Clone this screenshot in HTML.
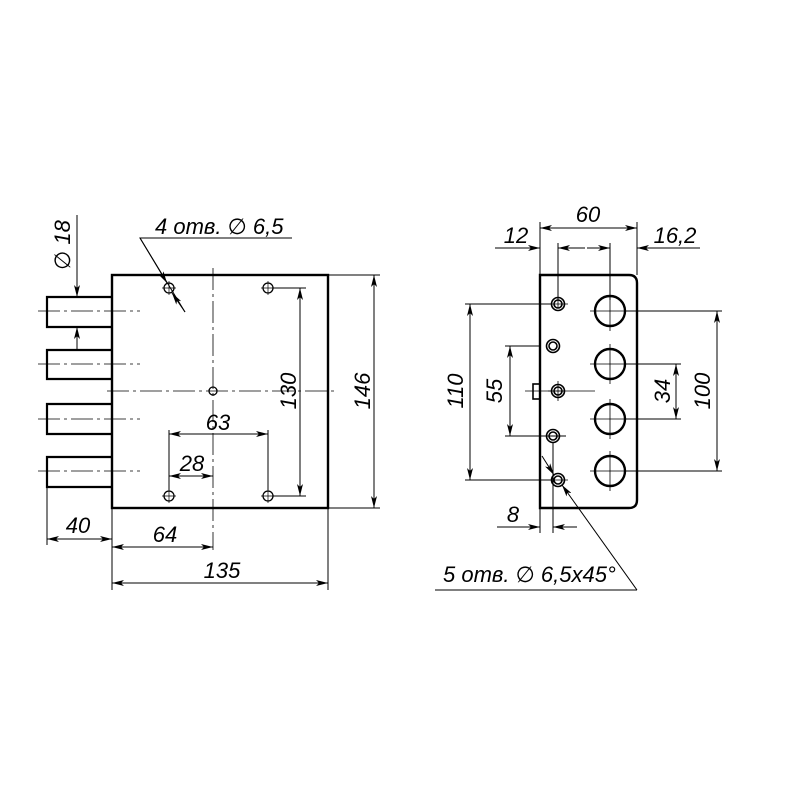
<!DOCTYPE html>
<html><head><meta charset="utf-8"><style>
html,body{margin:0;padding:0;background:#fff;}
svg{display:block;}
text{font-family:"Liberation Sans","DejaVu Sans",sans-serif;font-style:italic;font-size:22px;fill:#000;}
</style></head><body>
<svg width="800" height="800" viewBox="0 0 800 800" xmlns="http://www.w3.org/2000/svg">
<defs>
<marker id="a" viewBox="0 0 12 6" refX="12" refY="3" markerWidth="12" markerHeight="6" markerUnits="userSpaceOnUse" orient="auto-start-reverse"><path d="M0,0 L12,3 L0,6 L3,3 z" fill="#000"/></marker>
</defs>
<g stroke="#000" fill="none">
<!-- LEFT VIEW -->
<rect x="112" y="275" width="216" height="233" stroke-width="2.4"/>
<g stroke-width="2.2">
<polyline points="112,297 47,297 47,327 112,327"/>
<polyline points="112,350 47,350 47,379 112,379"/>
<polyline points="112,404 47,404 47,434 112,434"/>
<polyline points="112,457 47,457 47,487 112,487"/>
</g>
<g stroke-width="0.8" stroke-dasharray="22,4,3,4">
<line x1="38" y1="311" x2="140" y2="311"/>
<line x1="38" y1="364" x2="140" y2="364"/>
<line x1="38" y1="419" x2="140" y2="419"/>
<line x1="38" y1="471" x2="140" y2="471"/>
<line x1="107" y1="391" x2="335" y2="391"/>
<line x1="213" y1="268" x2="213" y2="550"/>
</g>
<g stroke-width="1.3">
<circle cx="169" cy="288" r="5"/><circle cx="268" cy="288" r="5"/>
<circle cx="169" cy="496" r="5"/><circle cx="268" cy="496" r="5"/>
<circle cx="213" cy="391" r="4"/>
</g>
<g stroke-width="0.7">
<path d="M162,288h14M169,281v14M261,288h14M268,281v14M162,496h14M169,489v14M261,496h14M268,489v14"/>
</g>
<g stroke-width="1">
<line x1="273" y1="288" x2="306" y2="288"/><line x1="273" y1="496" x2="306" y2="496"/>
<line x1="300" y1="288" x2="300" y2="496" marker-start="url(#a)" marker-end="url(#a)"/>
<line x1="328" y1="275" x2="380" y2="275"/><line x1="328" y1="508" x2="380" y2="508"/>
<line x1="374" y1="275" x2="374" y2="508" marker-start="url(#a)" marker-end="url(#a)"/>
<line x1="169" y1="430" x2="169" y2="490"/><line x1="268" y1="430" x2="268" y2="490"/>
<line x1="169" y1="434" x2="268" y2="434" marker-start="url(#a)" marker-end="url(#a)"/>
<line x1="169" y1="476" x2="213" y2="476" marker-start="url(#a)" marker-end="url(#a)"/>
<line x1="47" y1="487" x2="47" y2="545"/><line x1="112" y1="508" x2="112" y2="590"/>
<line x1="47" y1="539" x2="112" y2="539" marker-start="url(#a)" marker-end="url(#a)"/>
<line x1="112" y1="547" x2="213" y2="547" marker-start="url(#a)" marker-end="url(#a)"/>
<line x1="328" y1="508" x2="328" y2="590"/>
<line x1="112" y1="583" x2="328" y2="583" marker-start="url(#a)" marker-end="url(#a)"/>
<line x1="77" y1="215" x2="77" y2="297" marker-end="url(#a)"/>
<line x1="77" y1="350" x2="77" y2="327" marker-end="url(#a)"/>
<polyline points="292,238 140,238 185,312"/>
<line x1="140" y1="238" x2="167" y2="283" marker-end="url(#a)"/>
<line x1="185" y1="312" x2="172" y2="293" marker-end="url(#a)"/>
</g>
<!-- RIGHT VIEW -->
<path d="M540,275 H629 Q637,275 637,283 V500 Q637,508 629,508 H540 Z" stroke-width="2.4"/>
<rect x="533" y="384" width="7" height="15" stroke-width="1.6"/>
<g stroke-width="2.4">
<circle cx="610" cy="311" r="15"/><circle cx="610" cy="364" r="15"/>
<circle cx="610" cy="419" r="15"/><circle cx="610" cy="471" r="15"/>
</g>
<g stroke-width="1.6">
<circle cx="558" cy="304" r="6.5"/><circle cx="558" cy="304" r="4"/>
<circle cx="553" cy="346" r="6.5"/><circle cx="553" cy="346" r="4"/>
<circle cx="558" cy="391" r="6.5"/><circle cx="558" cy="391" r="4"/>
<circle cx="553" cy="436" r="6.5"/><circle cx="553" cy="436" r="4"/>
<circle cx="558" cy="480" r="6.5"/><circle cx="558" cy="480" r="4"/>
</g>
<g stroke-width="0.8">
<path d="M590,311h40M590,364h40M590,419h40M590,471h40M610,291v40M610,344v40M610,399v40M610,451v40"/>
<path d="M548,304h20M558,294v14M548,391h16M558,381v20M548,480h20"/>
<line x1="525" y1="391" x2="595" y2="391"/>
</g>
<g stroke-width="1">
<line x1="540" y1="222" x2="540" y2="275"/><line x1="637" y1="222" x2="637" y2="275"/>
<line x1="558" y1="243" x2="558" y2="300"/><line x1="610" y1="243" x2="610" y2="300"/>
<line x1="540" y1="228" x2="637" y2="228" marker-start="url(#a)" marker-end="url(#a)"/>
<line x1="495" y1="248" x2="540" y2="248" marker-end="url(#a)"/>
<line x1="585" y1="248" x2="558" y2="248" marker-end="url(#a)"/>
<line x1="587" y1="248" x2="610" y2="248" marker-end="url(#a)"/>
<line x1="700" y1="248" x2="637" y2="248" marker-end="url(#a)"/>
<line x1="465" y1="304" x2="552" y2="304"/><line x1="465" y1="480" x2="552" y2="480"/>
<line x1="470" y1="304" x2="470" y2="480" marker-start="url(#a)" marker-end="url(#a)"/>
<line x1="505" y1="346" x2="540" y2="346"/><line x1="505" y1="436" x2="566" y2="436"/>
<line x1="510" y1="346" x2="510" y2="436" marker-start="url(#a)" marker-end="url(#a)"/>
<line x1="625" y1="364" x2="681" y2="364"/><line x1="625" y1="419" x2="681" y2="419"/>
<line x1="676" y1="364" x2="676" y2="419" marker-start="url(#a)" marker-end="url(#a)"/>
<line x1="625" y1="311" x2="722" y2="311"/><line x1="625" y1="471" x2="722" y2="471"/>
<line x1="717" y1="311" x2="717" y2="471" marker-start="url(#a)" marker-end="url(#a)"/>
<line x1="540" y1="508" x2="540" y2="533"/><line x1="553" y1="442" x2="553" y2="533"/>
<line x1="497" y1="527" x2="540" y2="527" marker-end="url(#a)"/>
<line x1="577" y1="527" x2="553" y2="527" marker-end="url(#a)"/>
<line x1="435" y1="590" x2="637" y2="590"/>
<line x1="637" y1="590" x2="562" y2="485" marker-end="url(#a)"/>
<line x1="542" y1="456" x2="554" y2="475" marker-end="url(#a)"/>
</g>
</g>
<text x="155" y="234">4 отв. ∅ 6,5</text>
<text transform="translate(70,245) rotate(-90)" text-anchor="middle">∅ 18</text>
<text transform="translate(296,391) rotate(-90)" text-anchor="middle">130</text>
<text transform="translate(370,391) rotate(-90)" text-anchor="middle">146</text>
<text x="218" y="430" text-anchor="middle">63</text>
<text x="192" y="471" text-anchor="middle">28</text>
<text x="78" y="533" text-anchor="middle">40</text>
<text x="165" y="542" text-anchor="middle">64</text>
<text x="222" y="578" text-anchor="middle">135</text>
<text x="588" y="222" text-anchor="middle">60</text>
<text x="516" y="243" text-anchor="middle">12</text>
<text x="675" y="243" text-anchor="middle">16,2</text>
<text transform="translate(463,391) rotate(-90)" text-anchor="middle">110</text>
<text transform="translate(502,391) rotate(-90)" text-anchor="middle">55</text>
<text transform="translate(670,391) rotate(-90)" text-anchor="middle">34</text>
<text transform="translate(710,391) rotate(-90)" text-anchor="middle">100</text>
<text x="513" y="522" text-anchor="middle">8</text>
<text x="443" y="582">5 отв. ∅ 6,5x45°</text>
</svg>
</body></html>
